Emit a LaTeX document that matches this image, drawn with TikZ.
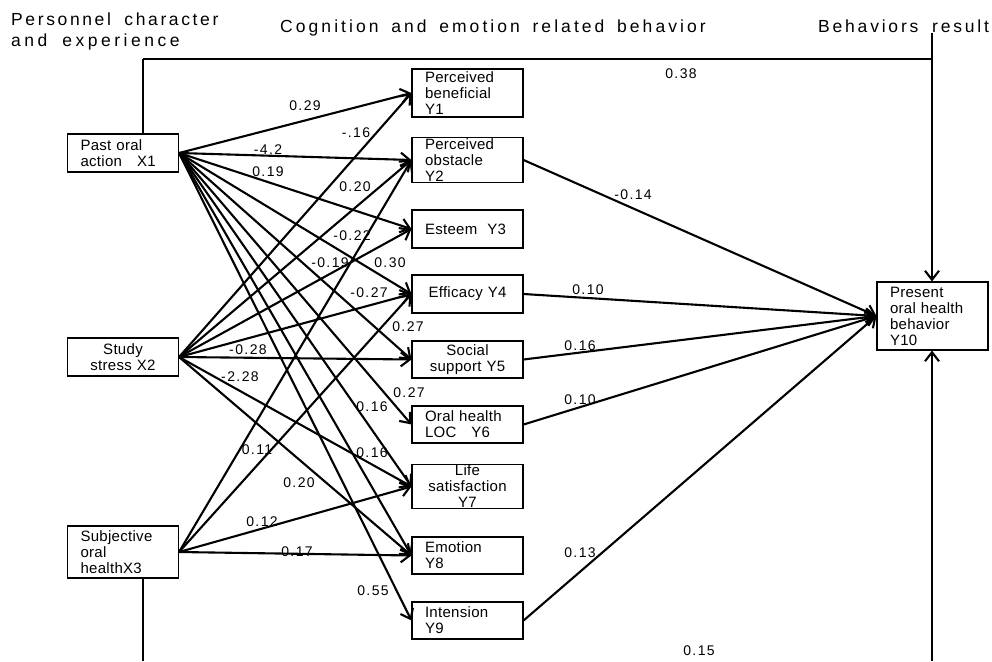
\documentclass[tikz,border=0pt]{standalone}
\usepackage{fontspec}
\setmainfont{Liberation Sans}
\newfontfamily\boxfont[LetterSpace=2]{Liberation Sans}
\newfontfamily\wtfont[LetterSpace=10]{Liberation Sans}
\newfontfamily\headfont[LetterSpace=16,WordSpace=1.8]{Liberation Sans}
\newfontfamily\cogfont[LetterSpace=17.5,WordSpace=1.6]{Liberation Sans}
\usetikzlibrary{arrows.meta}

\begin{document}
\begin{tikzpicture}[x=1pt, y=-1pt, >={Straight Barb[length=9pt,width=14pt]}]
    % Setup the styles for boxes, weights, paths and headings
    \tikzset{box style/.style={
        draw,
        line width=1.1pt,
        fill=white,
        inner xsep=13pt,
        inner ysep=2pt,
        minimum width=111pt,
        text width=85pt,
        font=\boxfont\fontsize{15}{16}\selectfont},
      path style/.style={draw, ->, line width=2.1pt},
      wt style/.style={inner sep=0pt, font=\wtfont\fontsize{14}{16}\selectfont},
      head style/.style={inner sep=0pt, anchor=base west,
        font=\headfont\fontsize{17.5}{21}\selectfont}}
    \useasboundingbox (0,0) rectangle (992,661);

    % Headings
    \node[head style] (hPer) at (11,26)  {\addfontfeature{LetterSpace=15}Personnel character};
    \node[head style] (hExp) at (11,47)  {\addfontfeature{LetterSpace=20}and experience};
    \node[head style] (hCog) at (280,33) {\cogfont Cognition and emotion related behavior};
    \node[head style] (hRes) at (818,33) {Behaviors result};

    % Draw the boxes
    \node[box style, align=left,   minimum height=38pt] at (123,153)   (X1) {Past oral\\action\quad X1};
    \node[box style, align=center, minimum height=38pt] at (123,357)   (X2) {Study\\stress X2};
    \node[box style, align=left,   minimum height=52pt] at (123,552)   (X3) {Subjective\\oral\\healthX3};

    \node[box style, align=left,   minimum height=48pt] at (467.5,93)  (Y1) {Perceived\\beneficial\\Y1};
    \node[box style, align=left,   inner ysep=1pt, text depth=32pt] at (467.5,160) (Y2) {Perceived\\obstacle\\Y2};
    \node[box style, align=left,   minimum height=38pt] at (467.5,229) (Y3) {Esteem\ \ Y3};
    \node[box style, align=center, minimum height=38pt] at (467.5,294) (Y4) {Efficacy Y4};
    \node[box style, align=center, minimum height=37pt] at (467.5,359.5) (Y5) {Social\\support Y5};
    \node[box style, align=left,   minimum height=37pt] at (467.5,424.5) (Y6) {Oral health\\LOC\ \ \ Y6};
    \node[box style, align=center, inner ysep=1pt, text depth=32pt] at (467.5,486.5) (Y7) {Life\\satisfaction\\Y7};
    \node[box style, align=left,   minimum height=37pt] at (467.5,555.5) (Y8) {Emotion\\Y8};
    \node[box style, align=left,   minimum height=37pt] at (467.5,620.5) (Y9) {Intension\\Y9};

    \node[box style, align=left,   minimum height=68pt] at (932.5,316) (Y10) {Present\\oral health\\behavior\\Y10};

    % Connect the boxes with arrows
    \path[every edge/.style=path style]
        (X1.east) edge (Y1.west)
        (X1.east) edge (Y2.west)
        (X1.east) edge (Y3.west)
        (X1.east) edge (Y4.west)
        (X1.east) edge (Y5.west)
        (X1.east) edge (Y6.west)
        (X1.east) edge (Y7.west)
        (X1.east) edge (Y8.west)
        (X1.east) edge (Y9.west)
        (X2.east) edge (Y1.west)
        (X2.east) edge (Y2.west)
        (X2.east) edge (Y3.west)
        (X2.east) edge (Y4.west)
        (X2.east) edge (Y5.west)
        (X2.east) edge (Y7.west)
        (X2.east) edge (Y8.west)
        (X3.east) edge (Y2.west)
        (X3.east) edge (Y4.west)
        (X3.east) edge (Y7.west)
        (X3.east) edge (Y8.west)
        (Y2.east) edge (Y10.west)
        (Y4.east) edge (Y10.west)
        (Y5.east) edge (Y10.west)
        (Y6.east) edge (Y10.west)
        (Y9.east) edge (Y10.west);

    % Direct paths round the top and the bottom
    \coordinate (tl) at (143,59);
    \coordinate (tr) at (932,33);
    \coordinate (bl) at (143,661);
    \coordinate (br) at (932,661);
    \draw[line width=2pt] (X1.north -| tl) -- (tl);
    \draw[line width=1.3pt] (tl) -- (tl -| tr);
    \draw[->, line width=2.1pt] (tr) -- (Y10.north -| tr);
    \draw[line width=2pt] (X3.south -| bl) -- (bl);
    \draw[->, line width=2.1pt] (br) -- (Y10.south -| br);

    % Path weights
    \node[wt style] (w1)  at (305,106) {0.29};
    \node[wt style] (w2)  at (356,133) {-.16};
    \node[wt style] (w3)  at (268,150) {-4.2};
    \node[wt style] (w4)  at (268,172) {0.19};
    \node[wt style] (w5)  at (355,187) {0.20};
    \node[wt style] (w6)  at (352,236) {-0.22};
    \node[wt style] (w7)  at (330,263) {-0.19};
    \node[wt style] (w8)  at (390,263) {0.30};
    \node[wt style] (w9)  at (369,293) {-0.27};
    \node[wt style] (w10) at (408,327) {0.27};
    \node[wt style] (w11) at (248,350) {-0.28};
    \node[wt style] (w12) at (240,377) {-2.28};
    \node[wt style] (w13) at (409,393) {0.27};
    \node[wt style] (w14) at (372,407) {0.16};
    \node[wt style] (w15) at (372,453) {0.16};
    \node[wt style] (w16) at (257,450) {0.11};
    \node[wt style] (w17) at (299,483) {0.20};
    \node[wt style] (w18) at (262,522) {0.12};
    \node[wt style] (w19) at (297,552) {0.17};
    \node[wt style] (w20) at (373,591) {0.55};
    \node[wt style] (w21) at (633,195) {-0.14};
    \node[wt style] (w22) at (588,290) {0.10};
    \node[wt style] (w23) at (580,346) {0.16};
    \node[wt style] (w24) at (580,400) {0.10};
    \node[wt style] (w25) at (580,553) {0.13};
    \node[wt style] (w26) at (681,74)  {0.38};
    \node[wt style] (w27) at (699,651) {0.15};
\end{tikzpicture}
\end{document}
